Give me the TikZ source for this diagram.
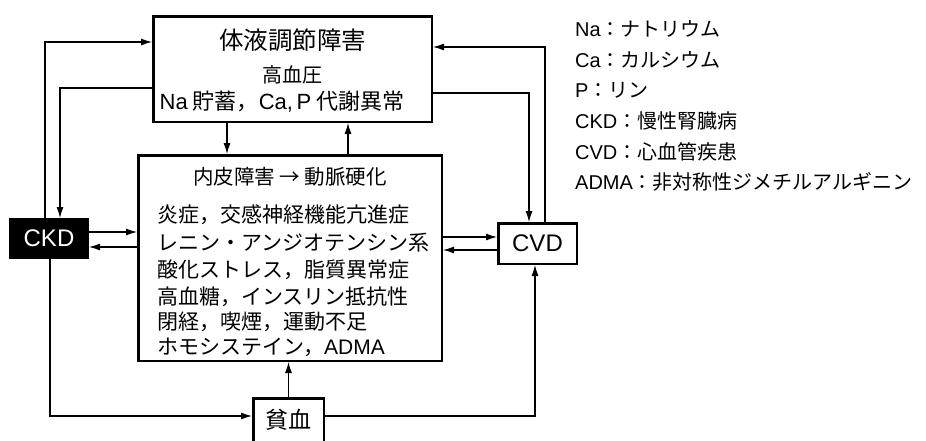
\documentclass[tikz,border=0pt]{standalone}
\usepackage{fontspec}
\setmainfont{Noto Sans CJK JP}
\newfontfamily\latf{Liberation Sans}
\usetikzlibrary{arrows.meta,calc}
\newcommand\la[1]{{\latf #1}}
\begin{document}
\begin{tikzpicture}[x=1pt,y=-1pt,
  box/.style={draw,line width=2.5pt,inner sep=0pt},
  txt/.style={inner sep=0pt},
  arr/.style={line width=1.1pt,-{Latex[length=11pt,width=7pt]}},
  ln/.style={line width=1.1pt}]
\useasboundingbox (0,0) rectangle (926,440);
\clip (0,0) rectangle (926,440);
% boxes
\node[box,minimum width=278.5pt,minimum height=105.5pt] (top) at (292.5,69) {};
\node[box,minimum width=303.5pt,minimum height=205.5pt] (main) at (290,258) {};
\node[box,fill=black,minimum width=77.5pt,minimum height=38.5pt] (ckd) at (49,238.5) {};
\node[box,minimum width=78.5pt,minimum height=40.5pt] (cvd) at (537.5,243.5) {};
\node[box,minimum width=70.5pt,minimum height=43.5pt] (ane) at (288.5,420) {};
% box texts
\node[txt,font=\fontsize{24.5}{28}\selectfont] (t1) at (292.5,40) {体液調節障害};
\node[txt,font=\fontsize{20}{24}\selectfont] (t2) at (292.5,75) {高血圧};
\node[txt,font=\fontsize{22}{25}\selectfont] (t3) at (282,102) {\la{Na} 貯蓄，\la{Ca,\,P} 代謝異常};
\node[txt,font=\fontsize{20.5}{24}\selectfont] (m0) at (290,177) {内皮障害 → 動脈硬化};
\begin{scope}[every node/.style={txt,anchor=west,font=\fontsize{21}{25}\selectfont}]
\node (m1) at (157,215) {炎症，交感神経機能亢進症};
\node (m2) at (157,243) {レニン・アンジオテンシン系};
\node (m3) at (157,270) {酸化ストレス，脂質異常症};
\node (m4) at (157,297) {高血糖，インスリン抵抗性};
\node (m5) at (157,322) {閉経，喫煙，運動不足};
\node (m6) at (157,347) {ホモシステイン，\la{ADMA}};
\end{scope}
\node[txt,text=white,font=\latf\fontsize{24}{28}\selectfont] (ckdt) at (ckd) {CKD};
\node[txt,font=\latf\fontsize{24}{28}\selectfont] (cvdt) at (cvd) {CVD};
\node[txt,font=\fontsize{23}{27}\selectfont] (anet) at (ane) {貧血};
% legend
\begin{scope}[every node/.style={txt,anchor=west,font=\fontsize{20}{24}\selectfont}]
\node (g1) at (575,29) {\la{Na}：ナトリウム};
\node (g2) at (575,60) {\la{Ca}：カルシウム};
\node (g3) at (575,90) {\la{P}：リン};
\node (g4) at (575,121) {\la{CKD}：慢性腎臓病};
\node (g5) at (575,152) {\la{CVD}：心血管疾患};
\node (g6) at (575,182) {\la{ADMA}：非対称性ジメチルアルギニン};
\end{scope}
% connectors
\draw[arr] ([xshift=-4pt]ckd.north) |- ([yshift=27pt]top.west);
\draw[arr] ([yshift=-19pt]top.west) -| ([xshift=11pt]ckd.north);
\draw[arr] ([xshift=7.5pt]cvd.north) |- ([yshift=22pt]top.east);
\draw[arr] ([yshift=-24pt]top.east) -| ([xshift=-8.5pt]cvd.north);
\draw[arr] ([xshift=-65.5pt]top.south) -- ([xshift=-65.5pt]top.south |- main.north);
\draw[arr] ([xshift=55.5pt]top.south |- main.north) -- ([xshift=55.5pt]top.south);
\draw[arr] ([yshift=6.5pt]ckd.east) -- ([yshift=6.5pt]ckd.east -| main.west);
\draw[arr] ([yshift=-8.5pt]ckd.east -| main.west) -- ([yshift=-8.5pt]ckd.east);
\draw[arr] ([yshift=6.5pt]cvd.west -| main.east) -- ([yshift=6.5pt]cvd.west);
\draw[arr] ([yshift=-6.5pt]cvd.west) -- ([yshift=-6.5pt]cvd.west -| main.east);
\draw[arr] (ane.north) -- (ane.north |- main.south);
\draw[arr] ([xshift=1pt]ckd.south) |- ([yshift=4pt]ane.west);
\draw[arr] ([yshift=4pt]ane.east) -| ([xshift=-2.5pt]cvd.south);
\end{tikzpicture}
\end{document}
